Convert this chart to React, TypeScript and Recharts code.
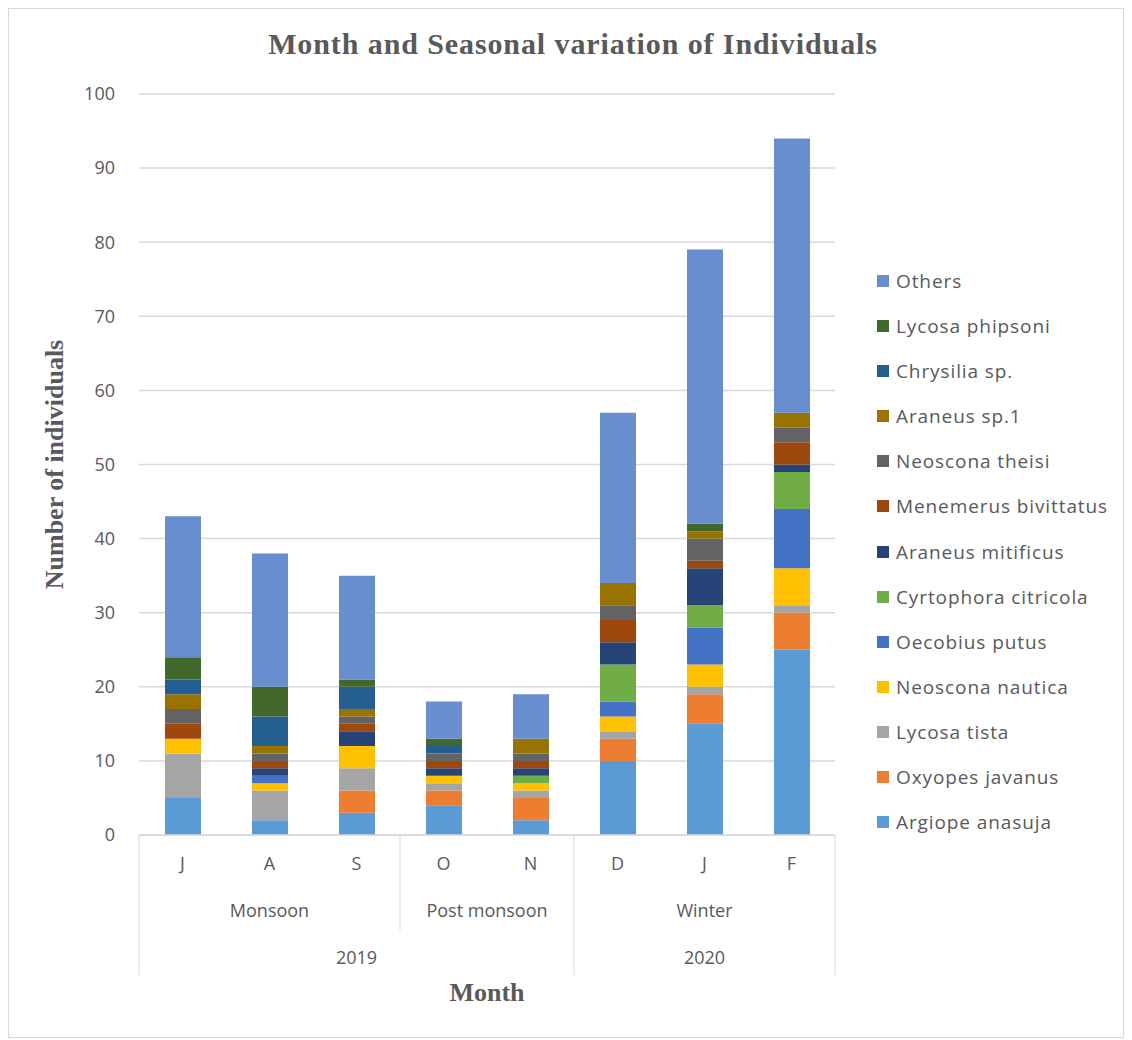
import React from "react";
import { BarChart, Bar, XAxis, YAxis, CartesianGrid } from "recharts";

const months = ["J", "A", "S", "O", "N", "D", "J", "F"];
const seasons = [
  { label: "Monsoon", start: 0, count: 3 },
  { label: "Post monsoon", start: 3, count: 2 },
  { label: "Winter", start: 5, count: 3 },
];
const years = [
  { label: "2019", start: 0, count: 5 },
  { label: "2020", start: 5, count: 3 },
];
const yTicks = [0, 10, 20, 30, 40, 50, 60, 70, 80, 90, 100];

const argiope = [5, 2, 3, 4, 2, 10, 15, 25];
const oxyopes = [0, 0, 3, 2, 3, 3, 4, 5];
const lycosaTista = [6, 4, 3, 1, 1, 1, 1, 1];
const neosconaNautica = [2, 1, 3, 1, 1, 2, 3, 5];
const oecobius = [0, 1, 0, 0, 0, 2, 5, 8];
const cyrtophora = [0, 0, 0, 0, 1, 5, 3, 5];
const araneusMitificus = [0, 1, 2, 1, 1, 3, 5, 1];
const menemerus = [2, 1, 1, 1, 1, 3, 1, 3];
const neosconaTheisi = [2, 1, 1, 1, 1, 2, 3, 2];
const araneusSp1 = [2, 1, 1, 0, 2, 3, 1, 2];
const chrysilia = [2, 4, 3, 1, 0, 0, 0, 0];
const lycosaPhipsoni = [3, 4, 1, 1, 0, 0, 1, 0];
const others = [19, 18, 14, 5, 6, 23, 37, 37];

const series = [
  { key: "Argiope anasuja", values: argiope, color: "#5B9BD5" },
  { key: "Oxyopes javanus", values: oxyopes, color: "#ED7D31" },
  { key: "Lycosa tista", values: lycosaTista, color: "#A5A5A5" },
  { key: "Neoscona nautica", values: neosconaNautica, color: "#FFC000" },
  { key: "Oecobius putus", values: oecobius, color: "#4472C4" },
  { key: "Cyrtophora citricola", values: cyrtophora, color: "#70AD47" },
  { key: "Araneus mitificus", values: araneusMitificus, color: "#264478" },
  { key: "Menemerus bivittatus", values: menemerus, color: "#9E480E" },
  { key: "Neoscona theisi", values: neosconaTheisi, color: "#636363" },
  { key: "Araneus sp.1", values: araneusSp1, color: "#997300" },
  { key: "Chrysilia sp.", values: chrysilia, color: "#255E91" },
  { key: "Lycosa phipsoni", values: lycosaPhipsoni, color: "#43682B" },
  { key: "Others", values: others, color: "#698ED0" },
];

const data = months.map((m, i) => {
  const row: any = { month: m };
  series.forEach((s) => {
    row[s.key] = s.values[i];
  });
  return row;
});

const SANS = "'Open Sans', Lato, sans-serif";
const SERIF = "'Liberation Serif', 'DejaVu Serif', serif";
const GRID = "#d9d9d9";
const TXT = "#595959";

const MultiTick = (props: any) => {
  const { x, y, payload, index } = props;
  const o = payload && typeof payload.offset === "number" ? payload.offset : 43.5;
  const left = x - o;
  const els: any[] = [];
  const tp = { textAnchor: "middle", fontFamily: SANS, fontSize: 18, fill: TXT } as any;
  els.push(
    <text key="m" x={x} y={y + 35} {...tp}>
      {months[index]}
    </text>
  );
  const season = seasons.find((s) => s.start === index);
  const year = years.find((s) => s.start === index);
  if (season) {
    els.push(
      <line key="sl" x1={left} x2={left} y1={y} y2={y + (year ? 140 : 95)} stroke={GRID} strokeWidth={1} />
    );
    els.push(
      <text key="st" x={left + season.count * o} y={y + 82} {...tp}>
        {season.label}
      </text>
    );
  }
  if (year) {
    els.push(
      <text key="yt" x={left + year.count * o} y={y + 129} {...tp}>
        {year.label}
      </text>
    );
  }
  if (index === months.length - 1) {
    els.push(<line key="rl" x1={x + o} x2={x + o} y1={y} y2={y + 140} stroke={GRID} strokeWidth={1} />);
  }
  return <g>{els}</g>;
};

const LegendBox = () => {
  const items = [...series].reverse();
  return (
    <div style={{ position: "absolute", left: 868, top: 249, display: "flex", flexDirection: "column" }}>
      {items.map((s) => (
        <div key={s.key} style={{ display: "flex", alignItems: "center", height: 45.17 }}>
          <div style={{ width: 12, height: 12, background: s.color, marginRight: 7 }} />
          <span style={{ fontFamily: SANS, fontSize: 19, color: TXT, letterSpacing: 0.9, whiteSpace: "nowrap" }}>
            {s.key}
          </span>
        </div>
      ))}
    </div>
  );
};

export default function App() {
  return (
    <div style={{ position: "relative", width: 1116, height: 1030, border: "1px solid #d9d9d9", boxSizing: "border-box" }}>
      <div
        style={{
          position: "absolute",
          left: 6,
          top: 18,
          width: 1116,
          textAlign: "center",
          fontFamily: SERIF,
          fontWeight: "bold",
          fontSize: 30,
          color: TXT,
          letterSpacing: 0.9,
        }}
      >
        Month and Seasonal variation of Individuals
      </div>
      <BarChart
        width={1114}
        height={1028}
        data={data}
        margin={{ top: 85, right: 288, bottom: 32, left: 70 }}
        barSize={36}
      >
        <CartesianGrid vertical={false} stroke={GRID} strokeWidth={1.5} />
        <XAxis
          dataKey="month"
          axisLine={{ stroke: GRID, strokeWidth: 1.5 }}
          tickLine={false}
          tickSize={0}
          tickMargin={0}
          interval={0}
          height={170}
          tick={<MultiTick />}
          label={{
            value: "Month",
            position: "insideBottom",
            offset: 4,
            style: { fontFamily: SERIF, fontWeight: "bold", fontSize: 26, fill: TXT },
          }}
        />
        <YAxis
          width={60}
          domain={[0, 100]}
          ticks={yTicks}
          axisLine={false}
          tickLine={false}
          tickMargin={18}
          tick={{ fontFamily: SANS, fontSize: 18, fill: TXT }}
          label={{
            value: "Number of individuals",
            angle: -90,
            position: "insideLeft",
            offset: -25,
            style: { textAnchor: "middle", fontFamily: SERIF, fontWeight: "bold", fontSize: 26, fill: TXT },
          }}
        />
        {series.map((s) => (
          <Bar key={s.key} dataKey={s.key} stackId="a" fill={s.color} isAnimationActive={false} />
        ))}
      </BarChart>
      <LegendBox />
    </div>
  );
}
